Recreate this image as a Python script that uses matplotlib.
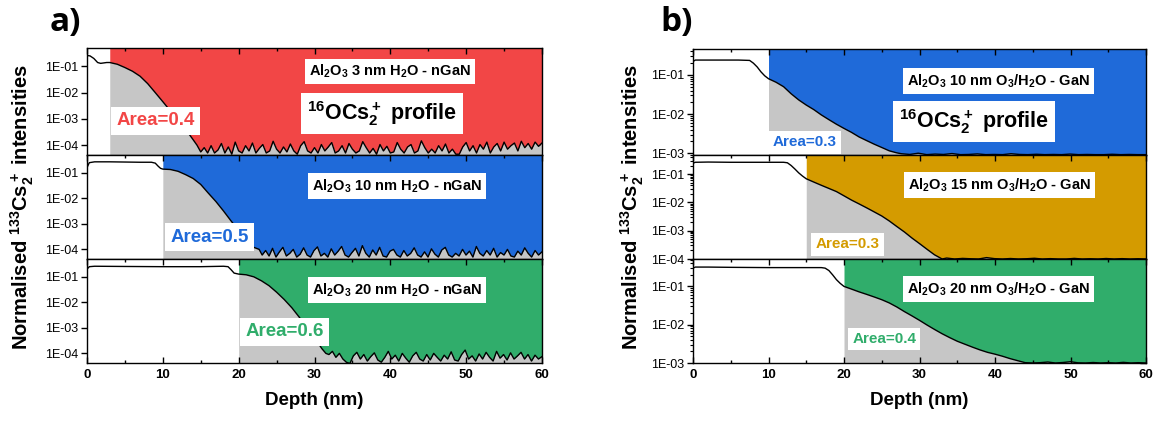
import numpy as np
import matplotlib
matplotlib.use("Agg")
import matplotlib.pyplot as plt
from matplotlib.ticker import FixedLocator, FuncFormatter, LogLocator, NullLocator, MultipleLocator, NullFormatter

plt.rcParams['font.family'] = ['Liberation Sans', 'DejaVu Sans']
plt.rcParams['mathtext.default'] = 'regular'

# ---------------- data (depth in nm, normalised intensity) ----------------
# panel a) top: Al2O3 3 nm H2O - nGaN
a1_depth = [0, 0.4, 0.9, 1.4, 1.8, 2.2, 2.6, 3.0, 4, 5, 6, 7, 8, 9, 10, 11, 12, 13, 14, 14.5]
a1_int = [0.26, 0.25, 0.2, 0.14, 0.13, 0.135, 0.14, 0.14, 0.12, 0.09, 0.065, 0.042, 0.022, 0.01,
          0.0045, 0.002, 0.0009, 0.0004, 0.00016, 0.0001]
a1_noise_e4 = [0.55, 0.8, 0.5, 0.95, 0.5, 0.65, 1.15, 0.5, 0.85, 0.45, 1.3, 0.6, 0.5, 0.95, 0.6, 1.2, 0.5, 0.75, 1.05, 0.5,
               0.6, 1.4, 0.7, 0.5, 0.85, 0.55, 1.1, 0.6, 0.45, 0.95, 1.35, 0.6, 0.5, 0.8, 0.5, 1.05, 0.6, 0.85, 1.25, 0.5,
               0.6, 0.95, 0.5, 1.15, 0.7, 0.5, 0.6, 1.35, 0.8, 0.5, 0.75, 0.45, 1.05, 0.6, 0.9, 0.5, 0.55, 1.25, 0.7, 0.5,
               0.85, 1.05, 0.5, 0.6, 1.45, 0.8, 0.5, 0.7, 0.5, 0.95, 0.6, 1.1, 0.5, 0.7, 0.45, 0.45, 0.85, 1.25, 0.6, 0.95,
               0.5, 1.05, 0.7, 1.3, 0.5, 0.85, 1.15, 0.6, 1.3, 0.7, 0.95, 1.2, 0.6, 1.4, 0.8, 1.15, 0.7, 1.3, 0.9, 1.2]

# panel a) middle: Al2O3 10 nm H2O - nGaN
a2_depth = [0, 0.3, 1, 3, 5, 7, 8.5, 9.0, 9.4, 9.7, 10, 11, 12, 13, 14, 15, 16, 17, 18, 19, 20, 21, 22, 22.7]
a2_int = [0.16, 0.25, 0.27, 0.27, 0.265, 0.26, 0.26, 0.24, 0.18, 0.15, 0.14, 0.135, 0.115, 0.085, 0.06, 0.035,
          0.016, 0.0075, 0.0032, 0.0013, 0.00055, 0.00024, 0.00012, 0.0001]
a2_noise_e4 = [0.6, 0.9, 0.55, 1.1, 0.5, 0.8, 1.2, 0.55, 0.7, 1.0, 0.5, 0.65, 1.15, 0.6, 0.5, 0.9, 1.25, 0.55, 0.7, 0.5,
               1.05, 0.6, 0.85, 1.3, 0.6, 0.5, 0.75, 1.1, 0.55, 1.4, 0.7, 0.5, 0.95, 0.6, 1.2, 0.55, 0.5, 0.85, 1.0, 0.6,
               0.5, 0.9, 0.55, 0.7, 1.15, 0.6, 0.5, 0.8, 0.5, 1.05, 0.65, 0.5, 0.95, 1.2, 0.6, 0.5, 0.7, 0.55, 1.0, 0.6,
               0.85, 0.5, 1.3, 0.7, 0.55, 0.9, 0.6, 1.1, 0.5, 0.75, 0.6, 1.0, 0.55, 0.5, 0.85, 0.6, 1.15, 0.7, 0.5, 0.9,
               0.6, 0.8]

# panel a) bottom: Al2O3 20 nm H2O - nGaN
a3_depth = [0, 0.3, 1, 5, 10, 15, 18, 18.6, 19.0, 19.4, 20, 21, 22, 23, 24, 25, 26, 27, 28, 29, 30, 31, 31.5]
a3_int = [0.2, 0.25, 0.26, 0.255, 0.25, 0.25, 0.26, 0.25, 0.19, 0.14, 0.128, 0.12, 0.1, 0.07, 0.045, 0.025,
          0.013, 0.0062, 0.0026, 0.001, 0.0004, 0.00015, 0.0001]
a3_noise_e4 = [0.9, 1.2, 0.7, 1.0, 0.6, 0.45, 0.4, 0.8, 1.1, 0.6, 0.9, 0.5, 0.75, 1.05, 0.55, 0.45, 0.7, 1.2, 0.6, 0.85,
               0.5, 1.0, 0.65, 0.45, 0.8, 1.1, 0.6, 0.5, 0.9, 0.55, 1.0, 0.7, 0.5, 0.85, 0.6, 1.15, 0.55, 0.5, 0.9, 1.35,
               0.6, 0.8, 0.5, 0.95, 0.6, 1.1, 0.7, 0.5, 1.2, 0.65, 0.9, 0.55, 1.05, 0.6, 0.8, 1.1, 0.6, 0.9, 0.5, 0.85,
               0.6, 0.75]

# panel b) top: Al2O3 10 nm O3/H2O - GaN
b1_depth = [0, 0.3, 2, 4, 6, 7.5, 8, 8.5, 9, 9.5, 10, 11, 12, 13, 14, 15, 16, 17, 18, 19, 20, 21, 22, 23,
            24, 25, 26, 27]
b1_int = [0.22, 0.24, 0.24, 0.24, 0.24, 0.235, 0.2, 0.16, 0.12, 0.095, 0.08, 0.065, 0.05, 0.033, 0.023, 0.017,
          0.013, 0.0095, 0.0072, 0.0055, 0.0043, 0.0034, 0.0026, 0.0021, 0.0017, 0.0014, 0.00115, 0.00102]
b1_floor_e3 = [0.97, 0.93, 1.0, 0.92, 0.95, 0.93, 0.98, 0.92, 0.93, 0.96, 0.92, 0.93, 0.92, 0.97, 0.93, 0.92,
               0.94, 0.92, 0.93, 0.92, 0.95, 0.92, 0.93, 0.92, 0.92, 0.94, 0.92, 0.93, 0.92, 0.92]

# panel b) middle: Al2O3 15 nm O3/H2O - GaN
b2_depth = [0, 0.3, 2, 5, 10, 12, 12.5, 13, 13.5, 14, 14.5, 15, 16, 17, 18, 19, 20, 21, 22, 23, 24, 25, 26, 27,
            28, 29, 30, 31, 32, 33]
b2_int = [0.24, 0.26, 0.265, 0.26, 0.26, 0.26, 0.25, 0.2, 0.15, 0.11, 0.085, 0.068, 0.052, 0.04, 0.031, 0.024,
          0.017, 0.012, 0.0088, 0.0064, 0.0046, 0.0033, 0.0022, 0.0014, 0.0009, 0.00055, 0.00035, 0.00022,
          0.00014, 0.0001]
b2_floor_e4 = [1.08, 1.0, 1.05, 1.02, 1.0, 1.12, 1.03, 1.0, 1.04, 1.0, 1.02, 1.06, 1.0, 1.03, 1.0, 1.0, 1.05,
               1.0, 1.02, 1.0, 1.04, 1.0, 1.03, 1.0, 1.02, 1.0]

# panel b) bottom: Al2O3 20 nm O3/H2O - GaN
b3_depth = [0, 0.3, 2, 5, 10, 15, 17, 17.5, 18, 18.5, 19, 19.5, 20, 21, 22, 23, 24, 25, 26, 27, 28, 29, 30,
            31, 32, 33, 34, 35, 36, 37, 38, 39, 40, 41, 42, 43, 44]
b3_int = [0.3, 0.32, 0.32, 0.315, 0.31, 0.31, 0.31, 0.3, 0.26, 0.2, 0.15, 0.12, 0.1, 0.085, 0.072, 0.062,
          0.053, 0.045, 0.037, 0.029, 0.022, 0.017, 0.013, 0.0098, 0.0075, 0.0058, 0.0046, 0.0037, 0.0031,
          0.0026, 0.0022, 0.0019, 0.0017, 0.0015, 0.0013, 0.00115, 0.00102]
b3_floor_e3 = [1.0, 1.02, 1.06, 1.0, 1.03, 1.08, 1.01, 1.0, 1.03, 1.0, 1.02, 1.0, 1.04, 1.0, 1.02, 1.0]

thickness_a = [3, 10, 20]
thickness_b = [10, 15, 20]
labels_a = ["Al$_2$O$_3$ 3 nm H$_2$O - nGaN", "Al$_2$O$_3$ 10 nm H$_2$O - nGaN",
            "Al$_2$O$_3$ 20 nm H$_2$O - nGaN"]
labels_b = ["Al$_2$O$_3$ 10 nm O$_3$/H$_2$O - GaN", "Al$_2$O$_3$ 15 nm O$_3$/H$_2$O - GaN",
            "Al$_2$O$_3$ 20 nm O$_3$/H$_2$O - GaN"]
areas_a = ["Area=0.4", "Area=0.5", "Area=0.6"]
areas_b = ["Area=0.3", "Area=0.3", "Area=0.4"]

# ---------------- styling ----------------
RED = "#F24646"
BLUE = "#1F6AD9"
GREEN = "#30AD6B"
GOLD = "#D49B00"
GRAY = "#C6C6C6"

W, H = 1157, 423
fig = plt.figure(figsize=(W / 100, H / 100), dpi=100)


def build(depth, inten, tail, tail_scale, tail_start):
    d = list(depth)
    v = list(inten)
    td = np.linspace(tail_start, 60, len(tail))
    d += list(td)
    v += [t * tail_scale for t in tail]
    return np.array(d), np.array(v)


def fmt(v, p):
    return "1E-%02d" % int(round(-np.log10(v)))


def panel(px0, px1, ptop, pbot, x, y, t, color, ylim, yticks, minor, bottom):
    ax = fig.add_axes([px0 / W, 1 - pbot / H, (px1 - px0) / W, (pbot - ptop) / H])
    m = x >= t
    ax.fill_between(x[m], y[m], ylim[1], color=color, lw=0, zorder=1)
    ax.fill_between(x[m], ylim[0], y[m], color=GRAY, lw=0, zorder=1)
    ax.plot(x, y, color='black', lw=1.0, zorder=3)
    ax.set_yscale('log')
    ax.set_xlim(0, 60)
    ax.set_ylim(*ylim)
    ax.yaxis.set_major_locator(FixedLocator(yticks))
    ax.yaxis.set_major_formatter(FuncFormatter(fmt))
    if minor:
        ax.yaxis.set_minor_locator(LogLocator(base=10, subs=np.arange(2, 10)))
    else:
        ax.yaxis.set_minor_locator(NullLocator())
    ax.yaxis.set_minor_formatter(NullFormatter())
    ax.xaxis.set_major_locator(MultipleLocator(10))
    ax.xaxis.set_minor_locator(MultipleLocator(5))
    ax.tick_params(axis='y', which='major', direction='out', left=True, right=False, length=4, width=1,
                   labelsize=9, pad=2)
    ax.tick_params(axis='y', which='minor', direction='out', left=True, right=False, length=2, width=0.8)
    # mirrored ticks on the right side pointing inward
    sec = ax.secondary_yaxis('right')
    sec.yaxis.set_major_locator(FixedLocator(yticks))
    sec.yaxis.set_major_formatter(NullFormatter())
    if minor:
        sec.yaxis.set_minor_locator(LogLocator(base=10, subs=np.arange(2, 10)))
    else:
        sec.yaxis.set_minor_locator(NullLocator())
    sec.yaxis.set_minor_formatter(NullFormatter())
    sec.tick_params(axis='y', which='major', direction='in', length=4, width=1)
    sec.tick_params(axis='y', which='minor', direction='in', length=2, width=0.8)
    sec.spines['right'].set_visible(False)
    ax.tick_params(axis='x', which='both', top=True, direction='in', width=1)
    ax.tick_params(axis='x', which='major', length=4)
    ax.tick_params(axis='x', which='minor', length=2.5)
    if bottom:
        ax.tick_params(axis='x', which='both', bottom=True, labelbottom=True, labelsize=9.5, pad=4)
        for lab in ax.get_xticklabels():
            lab.set_fontweight('bold')
        ax.set_xlabel("Depth (nm)", fontsize=13.5, fontweight='bold', labelpad=8)
    else:
        ax.tick_params(axis='x', which='both', bottom=False, labelbottom=False)
    for s in ax.spines.values():
        s.set_linewidth(1.0)
        s.set_zorder(5)
    return ax


def box_text(ax, x, y, s, size, color='black'):
    ax.text(x, y, s, transform=ax.transAxes, ha='center', va='center', fontsize=size,
            fontweight='bold', color=color, zorder=6,
            bbox=dict(boxstyle='square,pad=0.28', fc='white', ec='none'))


tops = [48, 155, 259]
bots = [155, 259, 363]

# ---- panel a ----
a_data = [build(a1_depth, a1_int, a1_noise_e4, 1e-4, 15.0),
          build(a2_depth, a2_int, a2_noise_e4, 1e-4, 23.1),
          build(a3_depth, a3_int, a3_noise_e4, 1e-4, 31.9)]
a_colors = [RED, BLUE, GREEN]
a_lab_pos = [(0.666, 0.78), (0.681, 0.70), (0.681, 0.70)]
a_area_pos = [(0.151, 0.32), (0.269, 0.21), (0.435, 0.30)]
axes_a = []
for i in range(3):
    x, y = a_data[i]
    ax = panel(87, 542, tops[i], bots[i], x, y, thickness_a[i], a_colors[i], (4.2e-5, 0.5),
               [1e-4, 1e-3, 1e-2, 1e-1], False, i == 2)
    box_text(ax, *a_lab_pos[i], labels_a[i], 10.5)
    box_text(ax, *a_area_pos[i], areas_a[i], 13.5, a_colors[i])
    axes_a.append(ax)
box_text(axes_a[0], 0.648, 0.39, "$^{16}$OCs$_2^+$ profile", 15.5)

# ---- panel b ----
b_data = [build(b1_depth, b1_int, b1_floor_e3, 1e-3, 27.6),
          build(b2_depth, b2_int, b2_floor_e4, 1e-4, 33.6),
          build(b3_depth, b3_int, b3_floor_e3, 1e-3, 45.0)]
b_colors = [BLUE, GOLD, GREEN]
b_ylims = [(9e-4, 0.46), (1e-4, 0.47), (1e-3, 0.52)]
b_ticks = [[1e-3, 1e-2, 1e-1], [1e-4, 1e-3, 1e-2, 1e-1], [1e-3, 1e-2, 1e-1]]
b_lab_pos = [(0.675, 0.70), (0.676, 0.71), (0.675, 0.71)]
b_area_pos = [(0.246, 0.12), (0.341, 0.14), (0.422, 0.23)]
axes_b = []
for i in range(3):
    x, y = b_data[i]
    ax = panel(693, 1146, tops[i] + (1 if i == 0 else 0), bots[i], x, y, thickness_b[i], b_colors[i],
               b_ylims[i], b_ticks[i], True, i == 2)
    box_text(ax, *b_lab_pos[i], labels_b[i], 10.5)
    box_text(ax, *b_area_pos[i], areas_b[i], 11, b_colors[i])
    axes_b.append(ax)
box_text(axes_b[0], 0.621, 0.32, "$^{16}$OCs$_2^+$ profile", 15.5)

# ---- shared labels ----
ylab = "Normalised $^{133}$Cs$_2^+$ intensities"
fig.text(22 / W, 1 - 207 / H, ylab, rotation=90, ha='center', va='center', fontsize=14.5, fontweight='bold')
fig.text(632 / W, 1 - 207 / H, ylab, rotation=90, ha='center', va='center', fontsize=14.5, fontweight='bold')
fig.text(65 / W, 1 - 22 / H, "a)", ha='center', va='center', fontsize=24, fontweight='bold',
         family=['Open Sans', 'DejaVu Sans'])
fig.text(677 / W, 1 - 22 / H, "b)", ha='center', va='center', fontsize=24, fontweight='bold',
         family=['Open Sans', 'DejaVu Sans'])

fig.savefig("out.png", dpi=100)
